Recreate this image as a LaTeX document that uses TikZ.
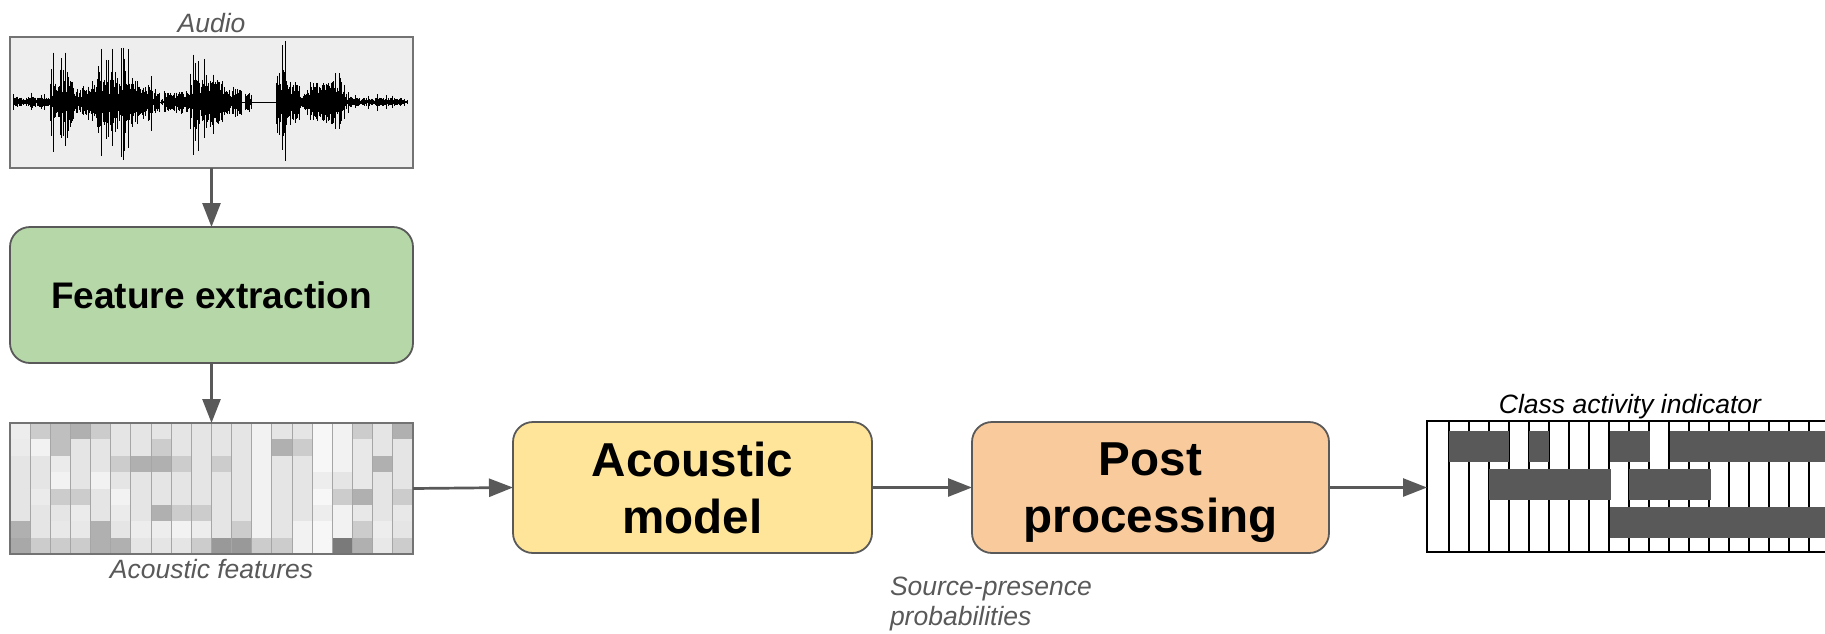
\documentclass[tikz,border=0pt]{standalone}
\usepackage{fontspec}
\setmainfont{Liberation Sans}
\usetikzlibrary{arrows.meta}

\definecolor{edgegray}{HTML}{595959}
\definecolor{wavebg}{HTML}{EEEEEE}
\definecolor{extractgreen}{HTML}{B6D7A8}
\definecolor{modelyellow}{HTML}{FFE599}
\definecolor{postorange}{HTML}{F9CB9C}
\definecolor{gridline}{HTML}{A6A6A6}

\begin{document}
\begin{tikzpicture}
  [x=1pt, y=-1pt,
   every node/.style={inner sep=0pt, outer sep=0pt},
   stage/.style={draw=edgegray, line width=1.8pt, rounded corners=20pt,
                 minimum height=131pt, align=center,
                 font=\fontsize{47.6}{57}\selectfont\bfseries},
   panel/.style={line width=2pt, minimum width=403pt, minimum height=131pt},
   lbl/.style={text=edgegray, font=\fontsize{26.5}{31}\selectfont\itshape},
   flow/.style={draw=edgegray, line width=2.7pt, -{Triangle[length=24pt,width=18pt]}},
   wave/.style={line width=0.9pt, black},
   bar/.style={fill=edgegray}]
  \clip (0,0) rectangle (1825,633);

  % audio
  \node [panel, draw=black!55, fill=wavebg] (audio) at (211.5,102) {};
  \pgfmathsetseed{11}
  \draw [wave, line width=0.8pt] (13,102) -- (408,102);
  \foreach \xa/\xb/\base/\spk/\p in {13/50/5/10/0.1, 50/56/20/52/0.3, 56/60/16/25/0.1,
      60/73/22/50/0.3, 73/85/16/32/0.1, 85/97/18/30/0.1, 97/101/25/50/0.4,
      101/140/24/55/0.15, 140/152/18/28/0.1, 152/160/9/14/0.1, 161/164/3/5/0,
      164/190/10/15/0.1, 190/206/24/50/0.3, 206/225/22/30/0.1, 225/242/13/20/0.1,
      245/252/9/13/0.1, 276/282/28/40/0.2, 282/286/40/62/0.5, 286/300/22/32/0.1,
      300/310/9/12/0.1, 310/345/20/30/0.15, 345/352/7/10/0.1, 352/400/4/8/0.15,
      400/408/2/4/0.1}{
    \foreach \x in {\xa,\xa.6,...,\xb}{
      \pgfmathsetmacro\h{rnd<\p ? \spk*(0.5+0.5*rnd) : \base*(0.3+0.7*rnd)}
      \pgfmathsetmacro\hb{\h*(0.8+0.4*rnd)}
      \draw [wave] (\x,102-\h) -- (\x,102+\hb);
    }
  }
  \node [lbl, anchor=base] (audiolbl) at (211.5,32) {Audio};

  \node [stage, fill=extractgreen, minimum width=403pt, minimum height=136pt,
         font=\fontsize{37}{44}\selectfont\bfseries] (extract) at (211.5,295) {Feature extraction};

  % acoustic features
  \foreach \col [count=\i from 0] in {{7,8,10,10,10,10,31,34},{20,5,10,10,8,10,10,20},
      {25,25,8,5,20,10,9,20},{31,10,10,10,20,8,9,20},{20,10,10,5,10,10,31,31},
      {10,10,20,10,5,8,10,31},{10,10,31,10,10,10,7,10},{10,20,31,10,10,31,7,10},
      {10,10,20,10,10,20,5,10},{10,10,10,10,10,20,7,20},{10,10,20,10,10,10,10,40},
      {10,10,10,10,10,10,20,40},{5,5,5,5,5,5,5,20},{10,31,10,10,10,10,10,20},
      {10,20,10,10,10,10,5,5},{3,3,3,7,3,7,3,3},{5,5,5,10,20,5,5,52},
      {20,9,9,9,31,9,20,31},{10,10,31,10,10,10,7,9},{31,10,10,10,20,9,10,20}}{
    \foreach \g [count=\j from 0] in \col
      \fill [black!\g] (10+\i*20.15,423+\j*16.375) rectangle ++(20.15,16.375);
  }
  \foreach \i in {1,...,19}
    \draw [gridline, line width=1pt] (10+\i*20.15,423) -- ++(0,131);
  \node [panel, draw=black!55] (feat) at (211.5,488.5) {};
  \node [lbl, anchor=base] (featlbl) at (211.5,578) {Acoustic features};

  \node [stage, fill=modelyellow, minimum width=359pt] (model) at (692.5,487.5) {Acoustic\\model};
  \node [stage, fill=postorange, minimum width=357pt, text depth=0pt] (post) at (1150.5,487.5) {Post\\processing};
  \node [lbl, anchor=base west] (problbl) at (890,595) {Source-presence};
  \node [lbl, anchor=base west] (problbl2) at (890,625) {probabilities};

  % class activity indicator
  \node [panel, draw=black, fill=white, minimum width=413pt] (act) at (1633.5,486.5) {};
  \foreach \i in {0,...,19}
    \draw [black, line width=1.5pt] (1449+\i*20,421) -- ++(0,131);
  \foreach \xa/\xb/\ya in {1449/1509/431, 1529/1549/431, 1610/1650/431, 1670/1840/431,
                           1489/1611/469, 1629/1711/469, 1610/1840/507}
    \fill [bar] (\xa,\ya) rectangle (\xb,\ya+31);
  \node [anchor=base, font=\fontsize{26.5}{31}\selectfont\itshape] (actlbl) at (1630,413) {Class activity indicator};

  \draw [flow] (audio) -- (extract);
  \draw [flow] (extract) -- (feat);
  \draw [flow] (feat.east) -- (model.west);
  \draw [flow] (model) -- (post);
  \draw [flow] (post.east) -- (post.east -| act.west);
\end{tikzpicture}
\end{document}
